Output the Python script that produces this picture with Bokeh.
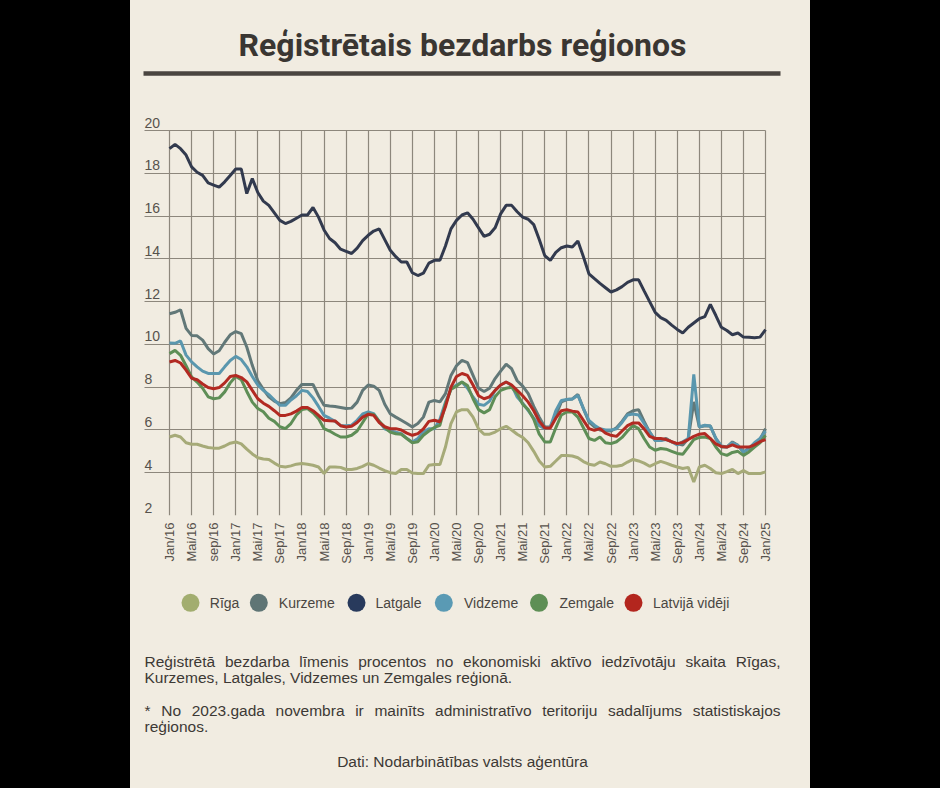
import math
from bokeh.plotting import figure
from bokeh.layouts import row, column
from bokeh.models import (Range1d, FixedTicker, Grid, LabelSet, ColumnDataSource,
                          GlobalInlineStyleSheet)
from bokeh.core.properties import value
from bokeh.embed import file_html
from bokeh.resources import INLINE

# ---------------- data ----------------
months = list(range(109))  # Jan 2016 .. Jan 2025, month index

riga = [5.67, 5.75, 5.67, 5.4, 5.33, 5.33, 5.25, 5.18, 5.15, 5.15,
        5.25, 5.38, 5.44, 5.35, 5.1, 4.88, 4.7, 4.64, 4.62, 4.45,
        4.3, 4.27, 4.32, 4.4, 4.43, 4.4, 4.35, 4.27, 3.96, 4.27,
        4.27, 4.25, 4.15, 4.15, 4.2, 4.3, 4.43, 4.35, 4.22, 4.1,
        4.0, 3.96, 4.15, 4.15, 3.99, 3.96, 3.96, 4.35, 4.38, 4.38,
        5.2, 6.3, 6.85, 6.95, 6.95, 6.6, 6.05, 5.8, 5.8, 5.9,
        6.06, 6.17, 6.0, 5.8, 5.65, 5.4, 5.0, 4.55, 4.27, 4.3,
        4.55, 4.8, 4.81, 4.78, 4.7, 4.52, 4.4, 4.35, 4.5, 4.42,
        4.3, 4.3, 4.35, 4.5, 4.62, 4.55, 4.45, 4.3, 4.42, 4.53,
        4.45, 4.35, 4.27, 4.2, 4.25, 3.57, 4.27, 4.35, 4.2, 4.0,
        3.96, 4.05, 4.15, 3.96, 4.1, 3.96, 3.96, 3.96, 4.04]

kurzeme = [11.43, 11.5, 11.62, 10.75, 10.42, 10.4, 10.2, 9.8, 9.55, 9.7,
           10.1, 10.45, 10.6, 10.5, 9.88, 9.02, 8.3, 7.9, 7.55, 7.35,
           7.23, 7.28, 7.5, 7.85, 8.13, 8.13, 8.13, 7.6, 7.15, 7.12,
           7.1, 7.05, 7.0, 7.02, 7.3, 7.85, 8.1, 8.05, 7.85, 7.2,
           6.76, 6.6, 6.45, 6.3, 6.14, 6.3, 6.6, 7.3, 7.38, 7.31,
           7.7, 8.55, 9.0, 9.25, 9.15, 8.55, 7.95, 7.8, 7.95, 8.4,
           8.75, 9.07, 8.86, 8.3, 8.05, 7.7, 7.1, 6.6, 6.14, 6.14,
           6.68, 7.31, 7.42, 7.45, 7.66, 7.0, 6.38, 6.14, 6.0, 5.96,
           5.95, 6.1, 6.4, 6.75, 6.9, 6.95, 6.4, 5.9, 5.51, 5.51,
           5.6, 5.44, 5.35, 5.3, 5.6, 7.31, 6.14, 6.2, 6.18, 5.6,
           5.2, 5.2, 5.44, 5.28, 4.97, 5.13, 5.3, 5.55, 6.06]

latgale = [19.15, 19.35, 19.15, 18.85, 18.3, 18.05, 17.9, 17.55, 17.45, 17.35,
           17.6, 17.9, 18.2, 18.2, 17.05, 17.75, 17.1, 16.7, 16.5, 16.15,
           15.8, 15.65, 15.75, 15.9, 16.05, 16.05, 16.4, 15.95, 15.35, 14.95,
           14.75, 14.45, 14.35, 14.25, 14.5, 14.85, 15.1, 15.3, 15.4, 14.9,
           14.4, 14.1, 13.85, 13.85, 13.35, 13.22, 13.33, 13.8, 13.93, 13.93,
           14.6, 15.4, 15.8, 16.05, 16.15, 15.85, 15.45, 15.05, 15.15, 15.45,
           16.1, 16.5, 16.5, 16.2, 15.95, 15.85, 15.6, 14.9, 14.15, 13.93,
           14.3, 14.52, 14.6, 14.55, 14.83, 14.1, 13.3, 13.07, 12.85, 12.65,
           12.45, 12.55, 12.7, 12.9, 13.02, 13.02, 12.5, 12.0, 11.5, 11.25,
           11.12, 10.9, 10.7, 10.53, 10.8, 11.0, 11.2, 11.3, 11.87, 11.35,
           10.8, 10.65, 10.45, 10.53, 10.34, 10.33, 10.31, 10.34, 10.69]

vidzeme = [10.07, 10.05, 10.16, 9.5, 9.18, 8.95, 8.75, 8.64, 8.64, 8.64,
           8.95, 9.25, 9.44, 9.29, 8.95, 8.5, 8.1, 7.85, 7.65, 7.4,
           7.15, 7.15, 7.4, 7.6, 7.85, 7.8, 7.5, 7.1, 6.68, 6.55,
           6.4, 6.2, 6.2, 6.22, 6.45, 6.75, 6.84, 6.76, 6.4, 6.05,
           5.95, 5.9, 5.83, 5.6, 5.44, 5.6, 5.9, 6.06, 6.06, 6.5,
           7.3, 7.9, 8.1, 8.24, 7.95, 7.54, 7.2, 7.15, 7.35, 7.85,
           8.1, 8.24, 8.08, 7.54, 7.25, 6.9, 6.55, 6.2, 6.06, 6.14,
           6.9, 7.38, 7.42, 7.45, 7.62, 7.0, 6.45, 6.22, 6.06, 6.0,
           6.0, 6.05, 6.35, 6.7, 6.75, 6.7, 6.3, 5.9, 5.51, 5.51,
           5.55, 5.45, 5.3, 5.45, 5.6, 8.6, 6.14, 6.22, 6.18, 5.6,
           5.25, 5.2, 5.4, 5.28, 4.97, 5.13, 5.4, 5.6, 5.95]

zemgale = [9.57, 9.72, 9.49, 9.0, 8.48, 8.24, 7.95, 7.55, 7.46, 7.5,
           7.78, 8.2, 8.5, 8.35, 7.8, 7.3, 7.0, 6.85, 6.55, 6.4,
           6.15, 6.06, 6.3, 6.7, 6.95, 7.0, 6.8, 6.53, 6.06, 5.95,
           5.8, 5.67, 5.67, 5.75, 5.95, 6.35, 6.75, 6.72, 6.4, 6.12,
           5.9, 5.82, 5.8, 5.6, 5.4, 5.45, 5.75, 5.95, 6.12, 6.22,
           7.2, 7.9, 8.05, 8.24, 8.08, 7.46, 6.95, 6.8, 6.95, 7.55,
           7.85, 7.95, 8.0, 7.7, 7.2, 6.95, 6.5, 5.8, 5.44, 5.44,
           6.1, 6.7, 6.84, 6.84, 6.6, 6.1, 5.6, 5.51, 5.67, 5.4,
           5.36, 5.45, 5.65, 5.95, 6.2, 6.06, 5.6, 5.2, 5.05, 5.13,
           5.1, 5.0, 4.9, 4.86, 5.2, 5.55, 5.65, 5.67, 5.6, 5.2,
           4.89, 4.81, 4.95, 5.0, 4.81, 4.97, 5.2, 5.4, 5.75]

latvija = [9.18, 9.25, 9.13, 8.8, 8.42, 8.35, 8.15, 7.98, 7.93, 7.98,
           8.2, 8.5, 8.55, 8.45, 8.25, 7.85, 7.46, 7.25, 7.1, 6.9,
           6.68, 6.68, 6.75, 6.88, 7.05, 7.05, 6.9, 6.68, 6.45, 6.43,
           6.42, 6.2, 6.14, 6.17, 6.35, 6.6, 6.73, 6.68, 6.35, 6.15,
           6.06, 6.06, 6.0, 5.85, 5.75, 5.83, 6.05, 6.4, 6.45, 6.38,
           7.08, 8.0, 8.5, 8.64, 8.55, 8.1, 7.6, 7.46, 7.55, 7.85,
           8.1, 8.24, 8.1, 7.85, 7.6, 7.3, 6.9, 6.4, 6.09, 6.09,
           6.55, 6.9, 6.95, 6.88, 6.84, 6.45, 6.06, 5.98, 6.06, 5.85,
           5.75, 5.7, 5.95, 6.2, 6.33, 6.33, 6.05, 5.7, 5.6, 5.6,
           5.55, 5.45, 5.36, 5.42, 5.55, 5.7, 5.8, 5.83, 5.6, 5.35,
           5.23, 5.2, 5.3, 5.2, 5.2, 5.2, 5.3, 5.45, 5.55]

series_names = ["Rīga", "Kurzeme", "Latgale", "Vidzeme", "Zemgale", "Latvijā vidēji"]
series_values = [riga, kurzeme, latgale, vidzeme, zemgale, latvija]
series_colors = ["#a6aa78", "#627878", "#323a4e", "#5a97ae", "#5e8e56", "#b22a22"]
legend_colors = ["#a2ad6f", "#5f7575", "#283a5c", "#5a9ab4", "#5e8f55", "#b3261e"]

x_tick_months = [0, 4, 8, 12, 16, 20, 24, 28, 32, 36, 40, 44, 48, 52,
                 56, 60, 64, 68, 72, 76, 80, 84, 88, 92, 96, 100, 104, 108]
x_tick_labels = ["Jan/16", "Mai/16", "sep/16", "Jan/17", "Mai/17", "Sep/17",
                 "Jan/18", "Mai/18", "Sep/18", "Jan/19", "Mai/19", "Sep/19",
                 "Jan/20", "Mai/20", "Sep/20", "Jan/21", "Mai/21", "Sep/21",
                 "Jan/22", "Mai/22", "Sep/22", "Jan/23", "Mai/23", "Sep/23",
                 "Jan/24", "Mai/24", "Sep/24", "Jan/25"]
y_ticks = [2, 4, 6, 8, 10, 12, 14, 16, 18, 20]
y_tick_labels = ["2", "4", "6", "8", "10", "12", "14", "16", "18", "20"]

title_text = "Reģistrētais bezdarbs reģionos"
para1_words = ["Reģistrētā", "bezdarba", "līmenis", "procentos", "no",
               "ekonomiski", "aktīvo", "iedzīvotāju", "skaita", "Rīgas,"]
para2_text = "Kurzemes, Latgales, Vidzemes un Zemgales reģionā."
para3_words = ["*", "No", "2023.gada", "novembra", "ir", "mainīts",
               "administratīvo", "teritoriju", "sadalījums", "statistiskajos"]
para4_text = "reģionos."
source_text = "Dati: Nodarbinātības valsts aģentūra"

# ---------------- styling / layout ----------------
BG = "#f1ece1"
GRID = "#8d877c"
TXT = "#3d3935"
FONT = "Liberation Sans"
PANEL_W = 680
X_START = -4.53          # left end of the horizontal grid lines (144px)
X_LEFT = -7.07           # panel left edge (130px)
X_RIGHT = 116.15         # panel right edge (810px)
Y_TOP = 20.795           # frame extends a little above the 20 line so its label shows


def band(w):
    b = figure(width=w, height=786, output_backend="svg", toolbar_location=None,
               x_axis_location=None, y_axis_location=None, min_border=0,
               background_fill_color="#000000", border_fill_color="#000000",
               outline_line_color=None)
    b.title = None
    b.grid.visible = False
    return b


def blank(height):
    f = figure(width=PANEL_W, height=height, output_backend="svg", toolbar_location=None,
               x_range=Range1d(0, PANEL_W), y_range=Range1d(height, 0),
               x_axis_location=None, y_axis_location=None, min_border=0,
               background_fill_color=BG, border_fill_color=BG, outline_line_color=None)
    f.title = None
    f.grid.visible = False
    return f


# ---------------- title ----------------
title_fig = blank(110)
title_fig.text(x=[332], y=[44], text=[title_text], text_align="center",
               text_baseline="middle", text_font=value("Roboto"),
               text_font_style="bold", text_font_size="32px", text_color="#3a3632")
title_fig.line(x=[13, 650], y=[73, 73], line_width=4.5, line_color="#4a4540")

# ---------------- chart ----------------
chart = figure(width=PANEL_W, height=470, output_backend="svg", toolbar_location=None,
               x_range=Range1d(X_LEFT, X_RIGHT), y_range=Range1d(2, Y_TOP),
               y_axis_location=None,
               min_border_left=0, min_border_right=0, min_border_top=3,
               min_border_bottom=65,
               background_fill_color=BG, border_fill_color=BG, outline_line_color=None)
chart.title = None
for g in chart.ygrid:
    g.visible = False

chart.xaxis.ticker = FixedTicker(ticks=x_tick_months)
chart.xaxis.major_label_overrides = {m: lab for m, lab in zip(x_tick_months, x_tick_labels)}
chart.xaxis.major_label_orientation = math.pi / 2
chart.xaxis.axis_line_color = None
chart.xaxis.major_tick_line_color = None
chart.xaxis.minor_tick_line_color = None
chart.xaxis.major_tick_out = 0
chart.xaxis.major_tick_in = 0
chart.xaxis.major_label_standoff = 7
chart.xaxis.major_label_text_font = FONT
chart.xaxis.major_label_text_font_size = "13px"
chart.xaxis.major_label_text_color = "#57524c"

chart.xgrid.ticker = FixedTicker(ticks=x_tick_months)
chart.xgrid.grid_line_color = GRID
chart.xgrid.grid_line_width = 1.2
ygrid = Grid(dimension=1, ticker=FixedTicker(ticks=y_ticks),
             grid_line_color=GRID, grid_line_width=1.2)
if "cross_bounds" in ygrid.properties():
    chart.xgrid.cross_bounds = (y_ticks[0], y_ticks[-1])
    ygrid.cross_bounds = (X_START, x_tick_months[-1])
chart.add_layout(ygrid)

ylab_src = ColumnDataSource(dict(x=[X_START] * len(y_ticks), y=y_ticks, text=y_tick_labels))
chart.add_layout(LabelSet(x="x", y="y", text="text", source=ylab_src,
                          text_align="left", text_baseline="alphabetic", y_offset=3,
                          text_font=value(FONT), text_font_size="14px",
                          text_color="#57524c"))

for vals, col in zip(series_values, series_colors):
    chart.line(x=months, y=vals, line_color=col, line_width=3)

# ---------------- legend + notes ----------------
bottom = blank(206)
legend_dot_x = [60.0, 128.3, 226.0, 313.3, 408.5, 503.0]
legend_txt_x = [79.3, 148.3, 245.0, 333.5, 429.0, 522.5]
LEG_Y = 22.3
bottom.scatter(x=legend_dot_x, y=[LEG_Y] * 6, size=18, marker="circle",
               fill_color=legend_colors, line_color=None)
bottom.text(x=legend_txt_x, y=[LEG_Y] * 6, text=series_names, text_align="left",
            text_baseline="middle", text_font=value(FONT), text_font_size="14px",
            text_color="#4a4642")

PFS = "15.5px"
p1_x = [14.0, 94.42, 168.83, 227.71, 305.56, 332.58, 419.89, 471.04, 554.92]
bottom.text(x=p1_x, y=[81] * 9, text=para1_words[:-1], text_align="left",
            text_baseline="middle", text_font=value(FONT), text_font_size=PFS,
            text_color=TXT)
bottom.text(x=[650], y=[81], text=para1_words[-1:], text_align="right",
            text_baseline="middle", text_font=value(FONT), text_font_size=PFS,
            text_color=TXT)
bottom.text(x=[14], y=[97], text=[para2_text], text_align="left",
            text_baseline="middle", text_font=value(FONT), text_font_size=PFS,
            text_color=TXT)
p3_x = [14.0, 30.69, 61.16, 145.08, 224.66, 243.92, 304.54, 411.67, 477.45]
bottom.text(x=p3_x, y=[130] * 9, text=para3_words[:-1], text_align="left",
            text_baseline="middle", text_font=value(FONT), text_font_size=PFS,
            text_color=TXT)
bottom.text(x=[650], y=[130], text=para3_words[-1:], text_align="right",
            text_baseline="middle", text_font=value(FONT), text_font_size=PFS,
            text_color=TXT)
bottom.text(x=[14], y=[146], text=[para4_text], text_align="left",
            text_baseline="middle", text_font=value(FONT), text_font_size=PFS,
            text_color=TXT)
bottom.text(x=[332], y=[181], text=[source_text], text_align="center",
            text_baseline="middle", text_font=value(FONT), text_font_size=PFS,
            text_color=TXT)

center = column(title_fig, chart, bottom, spacing=0)
layout = row(band(130), center, band(128), spacing=0)
layout.stylesheets = [GlobalInlineStyleSheet(css=(
    "body{background:linear-gradient(to right,#000 0,#000 130px,"
    + BG + " 130px," + BG + " 810px,#000 810px);}"))]

open("out.html", "w").write(file_html(layout, INLINE))
